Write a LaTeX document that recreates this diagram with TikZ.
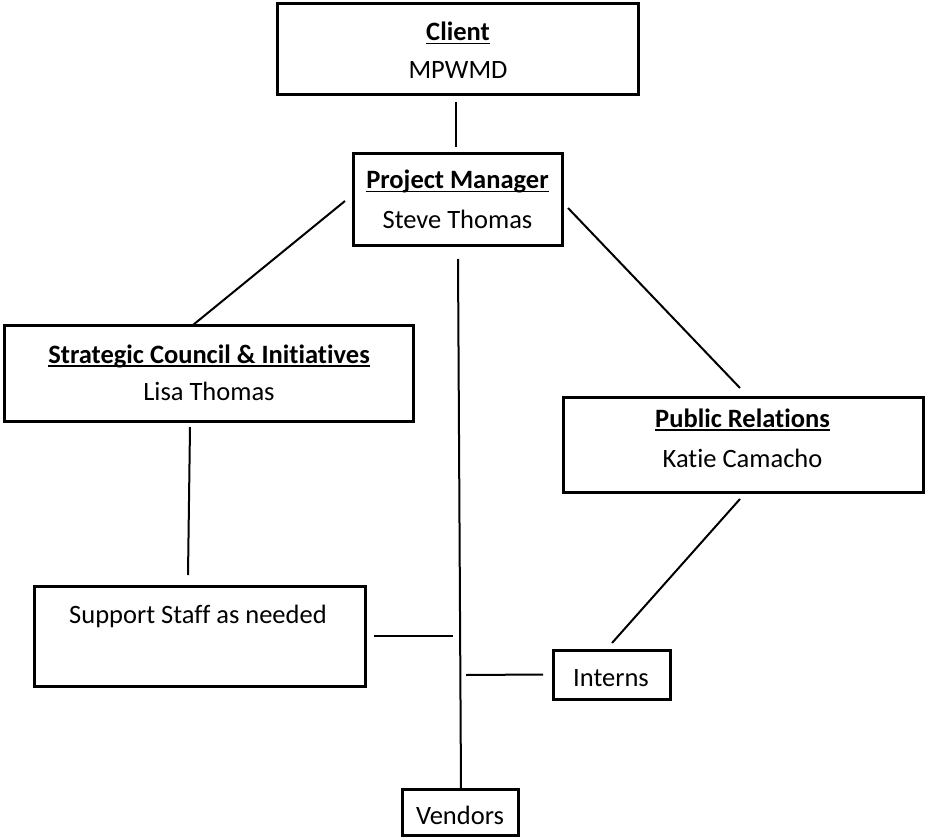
\documentclass[tikz,border=0pt]{standalone}
\usepackage{fontspec}
\setmainfont[Ligatures={NoCommon}]{Carlito}
\newcommand\myul[1]{\setbox0\hbox{#1}\rlap{\rule[-3.5pt]{\wd0}{1.8pt}}\box0}
\begin{document}
\begin{tikzpicture}[x=1pt,y=-1pt,
  box/.style={draw, line width=3pt, inner sep=0pt, outer sep=0pt},
  txt/.style={anchor=base, inner sep=0pt, outer sep=0pt, font=\fontsize{26.5}{30}\selectfont},
  conn/.style={line width=2pt}]
\useasboundingbox (0,0) rectangle (926,837);
% boxes
\node[box, minimum width=361pt, minimum height=91pt] (client) at (457.5,49.5) {};
\node[box, minimum width=209pt, minimum height=91pt] (pm) at (457.5,199.5) {};
\node[box, minimum width=409pt, minimum height=96pt] (strat) at (208.5,373) {};
\node[box, minimum width=360pt, minimum height=95pt] (pr) at (743,444.5) {};
\node[box, minimum width=331pt, minimum height=100pt] (support) at (199.5,636) {};
\node[box, minimum width=117pt, minimum height=49pt] (interns) at (611.5,674.5) {};
\node[box, minimum width=116pt, minimum height=46pt] (vendors) at (460,812) {};
% texts
\node[txt] (clientT) at (458,41) {\bfseries\myul{Client}};
\node[txt] (clientN) at (458,79) {MPWMD};
\node[txt] (pmT) at (457.5,189) {\bfseries\myul{Project Manager}};
\node[txt] (pmN) at (457.5,229) {Steve Thomas};
\node[txt] (stratT) at (209,363) {\bfseries\myul{Strategic Council \& Initiatives}};
\node[txt] (stratN) at (209,400) {Lisa Thomas};
\node[txt] (prT) at (742.5,427) {\bfseries\myul{Public Relations}};
\node[txt] (prN) at (742.5,467) {Katie Camacho};
\node[txt] (supportT) at (198,623) {Support Staff as needed};
\node[txt] (internsT) at (611,686) {Interns};
\node[txt] (vendorsT) at (460,824) {Vendors};
% free ends on the trunk
\coordinate (jS) at (453,636);
\coordinate (jI) at (466,675);
% connectors
\draw[conn] ([shift={(-1.5,7)}]client.south) -- ([shift={(-1.5,-7)}]pm.north);
\draw[conn] ([shift={(-8,1.5)}]pm.west) -- ([shift={(-15.5,0)}]strat.north);
\draw[conn] ([shift={(6,8.5)}]pm.east) -- ([shift={(-3,-9)}]pr.north);
\draw[conn] ([shift={(0.5,14)}]pm.south) -- ([shift={(1,0)}]vendors.north);
\draw[conn] ([shift={(-18.5,6)}]strat.south) -- ([shift={(-11.5,-11)}]support.north);
\draw[conn] ([shift={(9,0)}]support.east) -- (jS);
\draw[conn] (jI) -- ([shift={(-10,0)}]interns.west);
\draw[conn] ([shift={(-3,7)}]pr.south) -- ([shift={(0.5,-7)}]interns.north);
\end{tikzpicture}
\end{document}
